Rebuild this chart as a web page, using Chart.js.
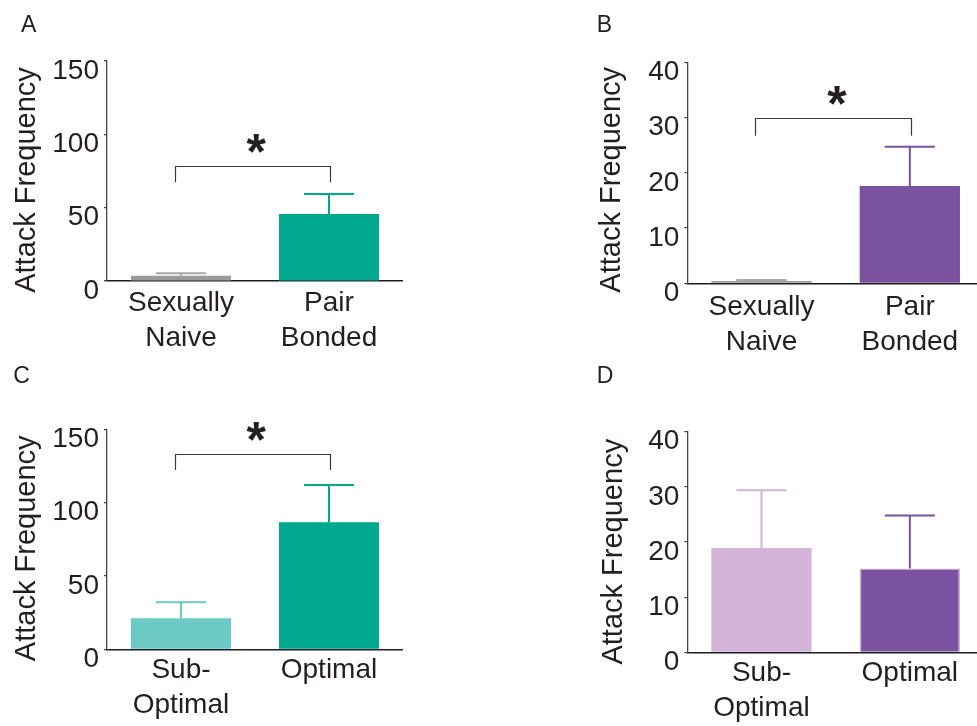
<!DOCTYPE html>
<html>
<head>
<meta charset="utf-8">
<script src="https://cdn.jsdelivr.net/npm/chart.js@4"></script>
<style>
  html, body { margin: 0; padding: 0; background: #fff; overflow: hidden; width: 977px; height: 726px; }
  canvas { position: absolute; }
</style>
</head>
<body>
<canvas id="panelA" width="403" height="360" style="left:0;top:0"></canvas>
<canvas id="panelB" width="404" height="360" style="left:580px;top:0"></canvas>
<canvas id="panelC" width="403" height="366" style="left:0;top:360px"></canvas>
<canvas id="panelD" width="404" height="366" style="left:580px;top:360px"></canvas>
<script>
// Group names on the x axes
const bondGroups = [['Sexually', 'Naive'], ['Pair', 'Bonded']];
const qualityGroups = [['Sub-', 'Optimal'], 'Optimal'];

// y-axis tick values
const ticksWide = [0, 50, 100, 150];
const ticksNarrow = [0, 10, 20, 30, 40];

// Mean attack frequency and SEM for each panel
const meanA = [3.6, 45.7];
const semA = [1.6, 13.6];
const meanB = [0.4, 17.6];
const semB = [0.2, 7.1];
const meanC = [21.1, 86.6];
const semC = [10.9, 25.4];
const meanD = [18.9, 15.2];
const semD = [10.5, 9.6];

// Significance brackets: [bar height, leg end]
const sigA = [78.6, 67.3];
const sigB = [29.9, 26.7];
const sigC = [133.4, 122.2];

const FONT = '"Liberation Sans", Arial, Helvetica, sans-serif';
const INK = '#231f20';

const TEAL = '#00a88d';
const TEAL_LIGHT = '#6dc9c6';
const GREY = '#9b9b9b';
const PURPLE = '#7b52a0';
const PURPLE_LIGHT = '#d4b4d7';

// Draws a bold asterisk whose ink box is centred on (cx, cy) with the given ink width
function drawStar(ctx, cx, cy, inkWidth) {
  ctx.font = 'bold 100px ' + FONT;
  const probe = ctx.measureText('*');
  const w100 = probe.actualBoundingBoxRight + probe.actualBoundingBoxLeft;
  const size = 100 * inkWidth / w100;
  ctx.font = 'bold ' + size + 'px ' + FONT;
  const m = ctx.measureText('*');
  ctx.textAlign = 'left';
  ctx.textBaseline = 'alphabetic';
  const x = cx - (m.actualBoundingBoxRight - m.actualBoundingBoxLeft) / 2;
  const y = cy + (m.actualBoundingBoxAscent - m.actualBoundingBoxDescent) / 2;
  ctx.fillText('*', x, y);
}

// Error bars, significance bracket, panel letter and rotated axis title
const panelDecor = {
  id: 'panelDecor',
  afterDatasetsDraw(chart, args, opts) {
    const ctx = chart.ctx;
    const y = chart.scales.y;
    const meta = chart.getDatasetMeta(0);
    const values = chart.data.datasets[0].data;
    ctx.save();
    ctx.lineCap = 'butt';
    opts.sem.forEach((s, i) => {
      const bar = meta.data[i];
      const yBase = y.getPixelForValue(values[i]);
      const yTop = y.getPixelForValue(values[i] + s);
      const half = bar.width / 4;
      ctx.strokeStyle = opts.errColors[i];
      ctx.lineWidth = 2;
      ctx.beginPath();
      ctx.moveTo(bar.x, yBase);
      ctx.lineTo(bar.x, yTop);
      ctx.moveTo(bar.x - half, yTop);
      ctx.lineTo(bar.x + half, yTop);
      ctx.stroke();
    });
    if (opts.bracket) {
      const yb = Math.round(y.getPixelForValue(opts.bracket[0])) + 0.5;
      const yl = y.getPixelForValue(opts.bracket[1]);
      const x1 = Math.round(meta.data[0].x - 6) + 0.5;
      const x2 = Math.round(meta.data[1].x + 1) + 0.5;
      ctx.strokeStyle = '#3a3a3a';
      ctx.lineWidth = 1.2;
      ctx.beginPath();
      ctx.moveTo(x1, yl);
      ctx.lineTo(x1, yb);
      ctx.lineTo(x2, yb);
      ctx.lineTo(x2, yl);
      ctx.stroke();
      ctx.fillStyle = INK;
      drawStar(ctx, (meta.data[0].x + meta.data[1].x) / 2 + 1.5, yb - 23, 19.4);
    }
    ctx.restore();
  },
  afterDraw(chart, args, opts) {
    const ctx = chart.ctx;
    const area = chart.chartArea;
    ctx.save();
    ctx.fillStyle = INK;
    ctx.font = '23px ' + FONT;
    ctx.textAlign = 'left';
    ctx.textBaseline = 'alphabetic';
    ctx.fillText(opts.letter, opts.letterPos[0], opts.letterPos[1]);
    ctx.translate(opts.titleX, (area.top + area.bottom) / 2 + opts.titleShift);
    ctx.rotate(-Math.PI / 2);
    ctx.font = '29px ' + FONT;
    ctx.textAlign = 'center';
    ctx.fillText('Attack Frequency', 0, 0);
    ctx.restore();
  }
};

function makePanel(id, cfg) {
  const canvas = document.getElementById(id);
  return new Chart(canvas, {
    type: 'bar',
    data: {
      labels: cfg.labels,
      datasets: [{
        data: cfg.values,
        backgroundColor: cfg.colors,
        borderColor: cfg.borders || cfg.colors,
        borderWidth: cfg.borderWidth || 0,
        borderSkipped: 'bottom',
        barPercentage: 0.676,
        categoryPercentage: 1
      }]
    },
    options: {
      responsive: false,
      devicePixelRatio: 1,
      animation: false,
      events: [],
      layout: { padding: { top: cfg.top, left: 0, right: 0, bottom: 0 } },
      plugins: {
        legend: { display: false },
        tooltip: { enabled: false },
        panelDecor: {
          letter: cfg.letter,
          letterPos: cfg.letterPos,
          titleX: cfg.titleX,
          titleShift: cfg.titleShift,
          sem: cfg.sem,
          errColors: cfg.errColors,
          bracket: cfg.bracket
        }
      },
      scales: {
        x: {
          grid: { display: false, drawTicks: false },
          border: { display: true, color: '#1e1e1e', width: 1.6 },
          ticks: {
            color: INK,
            padding: cfg.xPad,
            font: { family: FONT, size: 28, lineHeight: 1.25 },
            maxRotation: 0,
            autoSkip: false
          },
          afterFit: s => { s.height = cfg.xHeight; }
        },
        y: {
          min: 0,
          max: cfg.ticks[cfg.ticks.length - 1],
          afterBuildTicks: s => { s.ticks = cfg.ticks.map(v => ({ value: v })); },
          grid: { display: true, drawOnChartArea: false, drawTicks: true, tickLength: 3, color: '#444', lineWidth: 1.2 },
          border: { display: true, color: '#444', width: 1.3 },
          ticks: {
            color: INK,
            padding: 5,
            labelOffset: 10,
            font: { family: FONT, size: 28 }
          },
          afterFit: s => { s.width = cfg.yWidth; }
        }
      }
    },
    plugins: [panelDecor]
  });
}

makePanel('panelA', {
  letter: 'A', letterPos: [21, 31.7], titleX: 35, titleShift: 9,
  labels: bondGroups, values: meanA, sem: semA, ticks: ticksWide,
  colors: [GREY, TEAL], errColors: ['#a8a8a8', TEAL],
  bracket: sigA, top: 61, yWidth: 107, xHeight: 79, xPad: 5
});

makePanel('panelB', {
  letter: 'B', letterPos: [16.7, 31.7], titleX: 40, titleShift: 7,
  labels: bondGroups, values: meanB, sem: semB, ticks: ticksNarrow,
  colors: [GREY, PURPLE], errColors: ['#a8a8a8', PURPLE],
  bracket: sigB, top: 62.3, yWidth: 107.3, xHeight: 76.7, xPad: 6
});

makePanel('panelC', {
  letter: 'C', letterPos: [13.3, 23.3], titleX: 35, titleShift: 9,
  labels: qualityGroups, values: meanC, sem: semC, ticks: ticksWide,
  colors: [TEAL_LIGHT, TEAL], errColors: [TEAL_LIGHT, TEAL],
  bracket: sigC, top: 69.3, yWidth: 107, xHeight: 76.7, xPad: 3.5
});

makePanel('panelD', {
  letter: 'D', letterPos: [16.7, 22.7], titleX: 41.7, titleShift: 9.7,
  labels: qualityGroups, values: meanD, sem: semD, ticks: ticksNarrow,
  colors: [PURPLE_LIGHT, PURPLE], borders: [PURPLE_LIGHT, '#c8a6cb'], borderWidth: [0, 1.5],
  errColors: [PURPLE_LIGHT, PURPLE],
  bracket: null, top: 71.7, yWidth: 107.3, xHeight: 73.7, xPad: 3.5
});
</script>
</body>
</html>
